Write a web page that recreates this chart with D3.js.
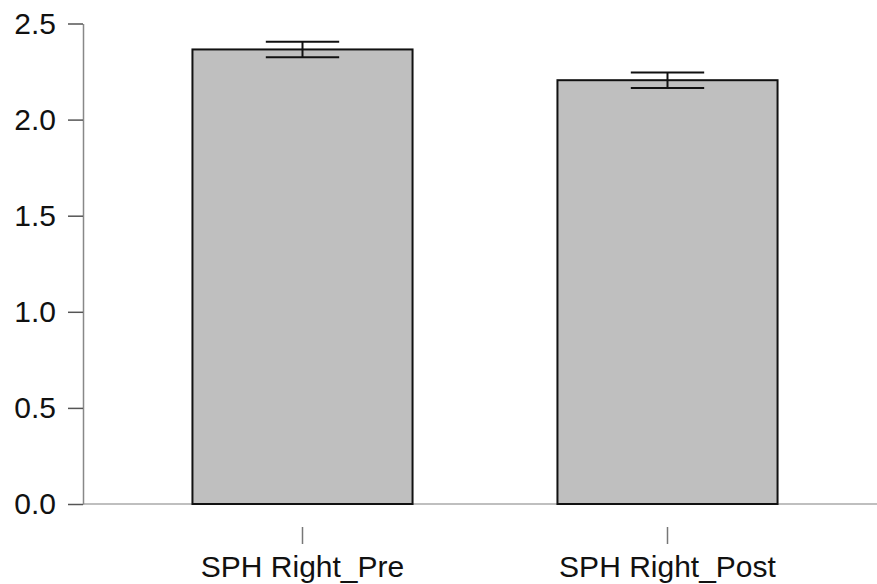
<!DOCTYPE html>
<html>
<head>
<meta charset="utf-8">
<script src="https://cdn.jsdelivr.net/npm/d3@7"></script>
<style>
  html, body { margin: 0; padding: 0; background: #fff; }
  svg { display: block; font-family: "Liberation Sans", Arial, sans-serif; }
</style>
</head>
<body>
<svg id="chart" width="877" height="584"></svg>
<script>
const categories = ['SPH Right_Pre', 'SPH Right_Post'];
const means = [2.365, 2.205];
const errors = [0.04, 0.04];
const yTicks = [0, 0.5, 1.0, 1.5, 2.0, 2.5];

const svg = d3.select('#chart');
const width = 877;

const data = categories.map((c, i) => ({ name: c, mean: means[i], err: errors[i] }));

const axisX = 83;
const baseY = 504;

const y = d3.scaleLinear()
  .domain([0, 2.5])
  .range([baseY, 23.5]);

const x = d3.scaleBand()
  .domain(categories)
  .range([120, 850])
  .paddingInner(0.397)
  .paddingOuter(0.1985);

// baseline
svg.append('line')
  .attr('x1', axisX)
  .attr('x2', width)
  .attr('y1', y(0))
  .attr('y2', y(0))
  .attr('stroke', '#aaa')
  .attr('stroke-width', 1.5);

// bars
svg.selectAll('rect.bar')
  .data(data)
  .enter()
  .append('rect')
  .attr('class', 'bar')
  .attr('x', d => x(d.name))
  .attr('width', x.bandwidth())
  .attr('y', d => y(d.mean))
  .attr('height', d => y(0) - y(d.mean))
  .attr('fill', '#bfbfbf')
  .attr('stroke', '#111')
  .attr('stroke-width', 2);

// error bars
const capW = x.bandwidth() / 3;
const cx = d => x(d.name) + x.bandwidth() / 2;
const eb = svg.selectAll('g.err')
  .data(data)
  .enter()
  .append('g')
  .attr('class', 'err')
  .attr('stroke', '#111')
  .attr('stroke-width', 2);

eb.append('line')
  .attr('x1', cx)
  .attr('x2', cx)
  .attr('y1', d => y(d.mean + d.err))
  .attr('y2', d => y(d.mean - d.err));

eb.append('line')
  .attr('x1', d => cx(d) - capW / 2)
  .attr('x2', d => cx(d) + capW / 2)
  .attr('y1', d => y(d.mean + d.err))
  .attr('y2', d => y(d.mean + d.err));

eb.append('line')
  .attr('x1', d => cx(d) - capW / 2)
  .attr('x2', d => cx(d) + capW / 2)
  .attr('y1', d => y(d.mean - d.err))
  .attr('y2', d => y(d.mean - d.err));

// y axis
const yAxis = svg.append('g')
  .attr('transform', `translate(${axisX},0)`)
  .call(d3.axisLeft(y)
    .tickValues(yTicks)
    .tickFormat(d3.format('.1f'))
    .tickSize(15)
    .tickSizeOuter(0)
    .tickPadding(12));

yAxis.select('.domain').attr('stroke', '#888').attr('stroke-width', 1.5);
yAxis.selectAll('.tick line').attr('stroke', '#555').attr('stroke-width', 1.5);
yAxis.selectAll('.tick text')
  .attr('font-size', 30)
  .attr('font-family', '"Liberation Sans", Arial, sans-serif')
  .attr('fill', '#111');

// x axis
const xAxis = svg.append('g')
  .attr('transform', 'translate(0,527)')
  .call(d3.axisBottom(x)
    .tickSize(17)
    .tickPadding(12));

xAxis.select('.domain').remove();
xAxis.selectAll('.tick line').attr('stroke', '#777').attr('stroke-width', 1.5);
xAxis.selectAll('.tick text')
  .attr('font-size', 30)
  .attr('font-family', '"Liberation Sans", Arial, sans-serif')
  .attr('fill', '#111');
</script>
</body>
</html>
